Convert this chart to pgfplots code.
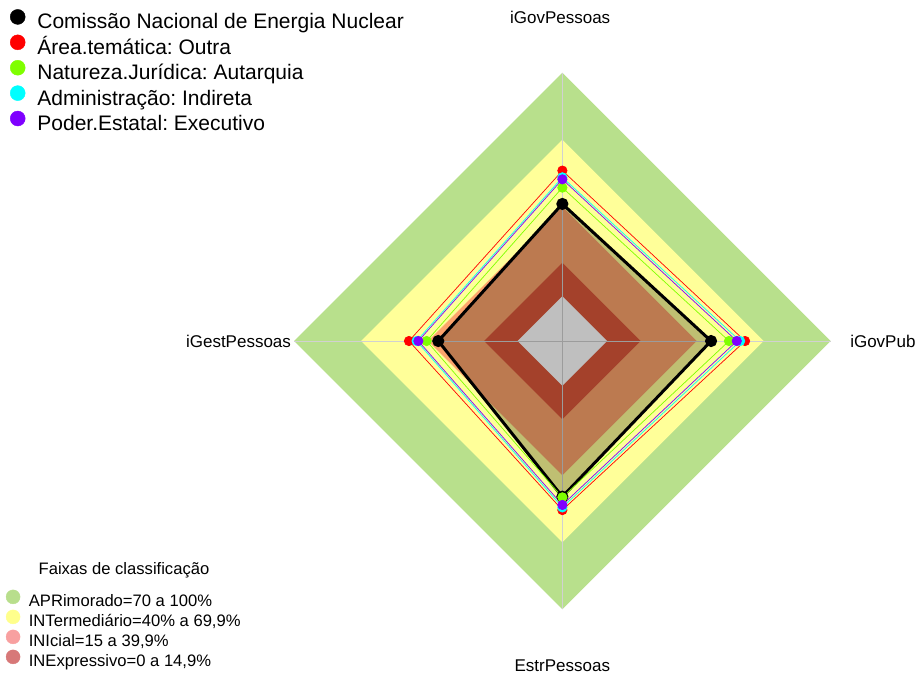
\documentclass[border=0pt]{standalone}
\usepackage{fontspec}
\setmainfont{Liberation Sans}
\usepackage{pgfplots}
\usepackage{pgfplotstable}
\pgfplotsset{compat=1.18}

% faixas (cores de fundo) e cores das series
\definecolor{faixaAPR}{RGB}{184,224,140}
\definecolor{faixaINT}{RGB}{255,255,153}
\definecolor{faixaINI}{RGB}{252,164,108}
\definecolor{faixaINE}{RGB}{220,88,58}
\definecolor{legAPR}{RGB}{184,222,140}
\definecolor{legINT}{RGB}{255,255,140}
\definecolor{legINI}{RGB}{248,160,160}
\definecolor{legINE}{RGB}{215,120,120}
\definecolor{serVermelho}{RGB}{255,0,0}
\definecolor{serVerde}{RGB}{127,255,0}
\definecolor{serCiano}{RGB}{0,255,255}
\definecolor{serRoxo}{RGB}{127,0,255}

% valores em %, angulo do eixo em graus
\pgfplotstableread{
ang cnen area natur admin poder
90  41.3 56.2 48.6 53.2 52.3
0   46.5 61.7 54.5 59.5 58.0
270 49.6 55.6 49.9 54.4 53.3
180 35.5 48.6 40.7 45.2 44.4
}\radar

\pgfplotstableread{
ang apr int ini ine zero
90  100 70 40 15 0
0   100 70 40 15 0
270 100 70 40 15 0
180 100 70 40 15 0
}\faixas

% raio = 20 (vazio central) + valor
\pgfplotsset{/pgfplots/table/radar/.style={
  x expr={(\thisrow{#1}+20)*cos(\thisrow{ang})},
  y expr={(\thisrow{#1}+20)*sin(\thisrow{ang})}}}

\begin{document}
\frenchspacing
\begin{tikzpicture}
\useasboundingbox (0,0) rectangle (917bp,674bp);
\begin{axis}[at={(0,0)}, anchor=south west, scale only axis,
  width=917bp, height=674bp,
  xmin=-251.5, xmax=158.6, ymin=-148.9, ymax=152.5,
  hide axis, clip=false,
  legend cell align=left,
  legend style={at={(rel axis cs:0.0107,0.9866)}, anchor=north west,
    draw=none, fill=none, inner sep=0pt, row sep=-0.3bp,
    font=\fontsize{21bp}{24bp}\selectfont,
    nodes={inner sep=0pt, text height=16bp, text depth=6bp},
    /tikz/every odd column/.append style={column sep=12bp}},
]
\addplot[draw=none, fill=faixaAPR, forget plot] table[radar=apr]{\faixas} -- cycle;
\addplot[draw=none, fill=faixaINT, forget plot] table[radar=int]{\faixas} -- cycle;
\addplot[draw=none, fill=faixaINI, forget plot] table[radar=ini]{\faixas} -- cycle;
\addplot[draw=none, fill=faixaINE, forget plot] table[radar=ine]{\faixas} -- cycle;
\addplot[draw=none, fill=white, forget plot] table[radar=zero]{\faixas} -- cycle;

\addplot[draw=black!18, line width=0.8bp, forget plot] coordinates {(0,-120) (0,120)};
\addplot[draw=black!18, line width=0.8bp, forget plot] coordinates {(-120,0) (120,0)};

\addplot[black, line width=3bp, fill=black, fill opacity=0.25, mark=*, mark size=4.5bp,
  mark options={fill opacity=1}, forget plot] table[radar=cnen]{\radar} -- cycle;
\addplot[serVermelho, line width=0.7bp, mark=*, mark size=4.7bp, forget plot] table[radar=area]{\radar} -- cycle;
\addplot[serVerde, line width=0.7bp, mark=*, mark size=4.7bp, forget plot] table[radar=natur]{\radar} -- cycle;
\addplot[serCiano, line width=0.7bp, mark=*, mark size=4.7bp, forget plot] table[radar=admin]{\radar} -- cycle;
\addplot[serRoxo, line width=0.7bp, mark=*, mark size=4.7bp, forget plot] table[radar=poder]{\radar} -- cycle;

\addlegendimage{legend image code/.code={\fill[black] (7.5bp,7bp) circle (7.5bp);}}
\addlegendentry{Comissão Nacional de Energia Nuclear}
\addlegendimage{legend image code/.code={\fill[serVermelho] (7.5bp,7bp) circle (7.5bp);}}
\addlegendentry{Área.temática: Outra}
\addlegendimage{legend image code/.code={\fill[serVerde] (7.5bp,7bp) circle (7.5bp);}}
\addlegendentry{Natureza.Jurídica: Autarquia}
\addlegendimage{legend image code/.code={\fill[serCiano] (7.5bp,7bp) circle (7.5bp);}}
\addlegendentry{Administração: Indireta}
\addlegendimage{legend image code/.code={\fill[serRoxo] (7.5bp,7bp) circle (7.5bp);}}
\addlegendentry{Poder.Estatal: Executivo}

\begin{scope}[every node/.style={inner sep=0pt, font=\fontsize{17bp}{20bp}\selectfont}]
\node[anchor=base] at (axis cs:-1,141.8) {iGovPessoas};
\node[anchor=base east] at (axis cs:158.0,-2.7) {iGovPub};
\node[anchor=base] at (axis cs:0,-147.6) {EstrPessoas};
\node[anchor=base east] at (axis cs:-121.3,-2.7) {iGestPessoas};
\end{scope}
\node[inner sep=0pt, font=\fontsize{16.6bp}{19bp}\selectfont, anchor=center]
  at (rel axis cs:0.1352,0.1543) {Faixas de classificação};
\end{axis}

\begin{axis}[at={(0,0)}, anchor=south west, scale only axis,
  width=917bp, height=674bp,
  xmin=-251.5, xmax=158.6, ymin=-148.9, ymax=152.5,
  hide axis, clip=false,
  legend cell align=left,
  legend style={at={(rel axis cs:0.0062,0.1254)}, anchor=north west,
    draw=none, fill=none, inner sep=0pt, row sep=-2bp,
    font=\fontsize{16.6bp}{19bp}\selectfont,
    nodes={inner sep=0pt, text height=13bp, text depth=5bp},
    /tikz/every odd column/.append style={column sep=8.6bp}},
]
\addlegendimage{legend image code/.code={\fill[legAPR] (7bp,5.8bp) circle (7bp);}}
\addlegendentry{APRimorado=70 a 100\%}
\addlegendimage{legend image code/.code={\fill[legINT] (7bp,5.8bp) circle (7bp);}}
\addlegendentry{INTermediário=40\% a 69,9\%}
\addlegendimage{legend image code/.code={\fill[legINI] (7bp,5.8bp) circle (7bp);}}
\addlegendentry{INIcial=15 a 39,9\%}
\addlegendimage{legend image code/.code={\fill[legINE] (7bp,5.8bp) circle (7bp);}}
\addlegendentry{INExpressivo=0 a 14,9\%}
\end{axis}
\end{tikzpicture}
\end{document}
